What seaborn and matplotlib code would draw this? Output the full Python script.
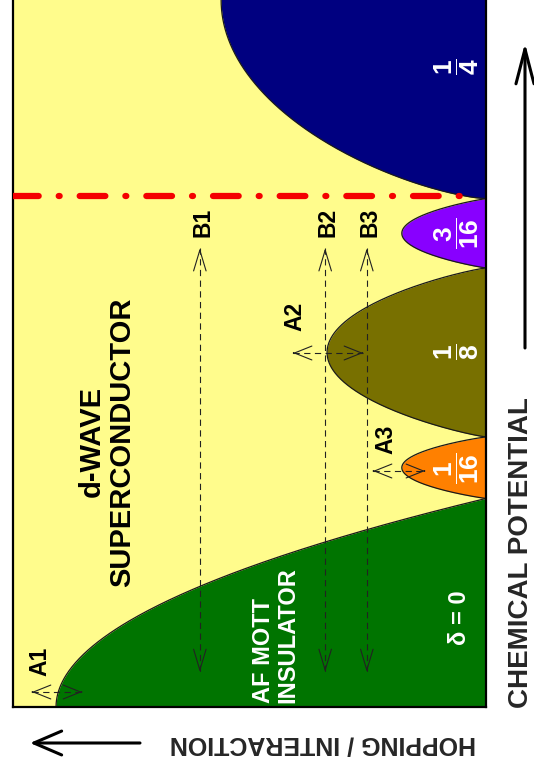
import numpy as np
import pandas as pd
import seaborn as sns
import matplotlib
matplotlib.use("Agg")
import matplotlib.pyplot as plt
from matplotlib import font_manager

# ---- phase lobes (chemical potential range, apex hopping, curvature) ----
phase_names = ["AF Mott (0)", "1/16", "1/8", "3/16", "1/4"]
phase_colors = ["#007400", "#FF8000", "#787000", "#8800FF", "#000080"]
mu_lower = [-29.5, 29.5, 38.2, 62.1, 71.9]
mu_upper = [29.5, 38.2, 62.1, 71.9, 128.1]
hop_apex = [0.909, 0.178, 0.336, 0.178, 0.56]
lobe_exponent = [1.0, 0.9, 0.85, 0.9, 0.7]

# fraction labels inside the doped lobes
frac_text = [r"$\dfrac{1}{16}$", r"$\dfrac{1}{8}$", r"$\dfrac{3}{16}$", r"$\dfrac{1}{4}$"]
frac_mu = [33.8, 50.2, 67.0, 90.5]
frac_hop = 0.061

# vertical cuts B1..B3 (fixed hopping, sweep in chemical potential)
cut_names = ["B1", "B2", "B3"]
cut_hop = [0.605, 0.340, 0.252]
cut_mu_top = 64.9
cut_mu_bottom = 4.95
cut_label_mu = 68.6

# horizontal scans A1..A3 across lobe tips
scan_names = ["A1", "A2", "A3"]
scan_mu = [2.12, 50.07, 33.38]
scan_hop_left = [0.960, 0.408, 0.239]
scan_hop_right = [0.854, 0.260, 0.129]
scan_label_hop = [0.943, 0.404, 0.211]
scan_label_mu = [6.5, 55.3, 37.9]

mu_critical = 72.3

FIG_W, FIG_H = 534, 766

sns.set_theme(style="white")
names = {f.name for f in font_manager.fontManager.ttflist}
base_font = "Liberation Sans" if "Liberation Sans" in names else "DejaVu Sans"
plt.rcParams["font.family"] = [base_font, "DejaVu Sans"]
plt.rcParams["mathtext.fontset"] = "custom"
plt.rcParams["mathtext.rm"] = f"{base_font}:bold"
plt.rcParams["mathtext.bf"] = f"{base_font}:bold"
plt.rcParams["mathtext.default"] = "bf"
plt.rcParams["lines.scale_dashes"] = False

fig = plt.figure(figsize=(FIG_W / 100, FIG_H / 100), dpi=100)
fig.patch.set_facecolor("white")
ax = fig.add_axes([13 / FIG_W, 59 / FIG_H, 473 / FIG_W, 707 / FIG_H])
ax.set_facecolor("#FFFC8C")
ax.set_xlim(1, 0)
ax.set_ylim(0, 100)

# lobes
for name, col, lo, hi, H, q in zip(phase_names, phase_colors, mu_lower,
                                    mu_upper, hop_apex, lobe_exponent):
    mu = np.linspace(lo, hi, 400)
    c, w = (lo + hi) / 2, (hi - lo) / 2
    hop = H * np.clip(1 - ((mu - c) / w) ** 2, 0, None) ** q
    ax.fill_betweenx(mu, 0, hop, color=col, lw=0, zorder=1)
    df = pd.DataFrame({"hop": hop, "mu": mu})
    sns.lineplot(data=df, x="hop", y="mu", orient="y", sort=False,
                 color="#1a1a1a", lw=0.9, ax=ax, zorder=2)

# critical chemical potential line
red, = ax.plot([1.0, 0.018], [mu_critical, mu_critical], color="#F40000",
               lw=4.5, zorder=3, dash_capstyle="round")
red.set_dashes((18.5, 14.4, 0.7, 14.4))


def dashed_double_arrow(p0, p1, hl, hw):
    line, = ax.plot([p0[0], p1[0]], [p0[1], p1[1]], color="#222222",
                    lw=0.8, zorder=4)
    line.set_dashes((4.5, 3.2))
    for tip, tail in ((p0, p1), (p1, p0)):
        d = np.array(tail) - np.array(tip)
        near = (tip[0] + d[0] * 0.01, tip[1] + d[1] * 0.01)
        ax.annotate("", xy=tip, xytext=near,
                    arrowprops=dict(arrowstyle=f"->,head_length={hl},head_width={hw}",
                                    color="#222222", lw=0.8, mutation_scale=10,
                                    shrinkA=0, shrinkB=0), zorder=4)


for name, h in zip(cut_names, cut_hop):
    dashed_double_arrow((h, cut_mu_top), (h, cut_mu_bottom), 1.5, 0.45)
    ax.text(h - 0.006, cut_label_mu, name, rotation=90, ha="center",
            va="center", fontsize=16.5, fontweight="bold", color="black", zorder=5)

for name, m, hl_, hr_, lh, lm in zip(scan_names, scan_mu, scan_hop_left,
                                      scan_hop_right, scan_label_hop, scan_label_mu):
    dashed_double_arrow((hl_, m), (hr_, m), 1.25, 0.5)
    ax.text(lh, lm, name, rotation=90, ha="center", va="center",
            fontsize=16.5, fontweight="bold", color="black", zorder=5)

for t, m in zip(frac_text, frac_mu):
    ax.text(frac_hop, m, t, rotation=90, ha="center", va="center",
            fontsize=19, color="white", zorder=5)

ax.text(0.801, 37.5, "d-WAVE\nSUPERCONDUCTOR", rotation=90, ha="center",
        va="center", multialignment="center", linespacing=1.08,
        fontsize=21, fontweight="bold", color="black", zorder=5)
ax.text(0.445, 0.57, "AF MOTT\nINSULATOR", rotation=90, ha="center",
        va="bottom", multialignment="left", linespacing=1.1,
        fontsize=17, fontweight="bold", color="white", zorder=5)
ax.text(0.055, 12.7, "δ = 0", rotation=90, ha="center", va="center",
        fontsize=17, fontweight="bold", color="white", zorder=5)

ax.set_xticks([])
ax.set_yticks([])
ax.set_xlabel("")
ax.set_ylabel("")
for side in ("left", "right", "bottom"):
    ax.spines[side].set_visible(True)
    ax.spines[side].set_color("black")
    ax.spines[side].set_linewidth(1.6)
ax.spines["top"].set_visible(False)


def fx(px):
    return px / FIG_W


def fy(py):
    return (FIG_H - py) / FIG_H


# axis titles and arrows in figure space
fig.text(fx(323), fy(743), "HOPPING / INTERACTION", rotation=180, ha="center",
         va="center", fontsize=18, fontweight="bold")
fig.text(fx(521), fy(553), "CHEMICAL POTENTIAL", rotation=90, ha="center",
         va="center", fontsize=20, fontweight="bold")
fig.add_artist(matplotlib.text.Annotation(
    "", xy=(fx(30), fy(743)), xytext=(fx(140), fy(743)),
    xycoords="figure fraction", textcoords="figure fraction",
    arrowprops=dict(arrowstyle="->,head_length=2.0,head_width=0.86",
                    color="black", lw=2.2, mutation_scale=10,
                    shrinkA=0, shrinkB=0)))
fig.add_artist(matplotlib.text.Annotation(
    "", xy=(fx(525), fy(43)), xytext=(fx(525), fy(348)),
    xycoords="figure fraction", textcoords="figure fraction",
    arrowprops=dict(arrowstyle="->,head_length=2.5,head_width=0.65",
                    color="black", lw=2.2, mutation_scale=10,
                    shrinkA=0, shrinkB=0)))

fig.savefig("out.png", dpi=100, facecolor="white")
